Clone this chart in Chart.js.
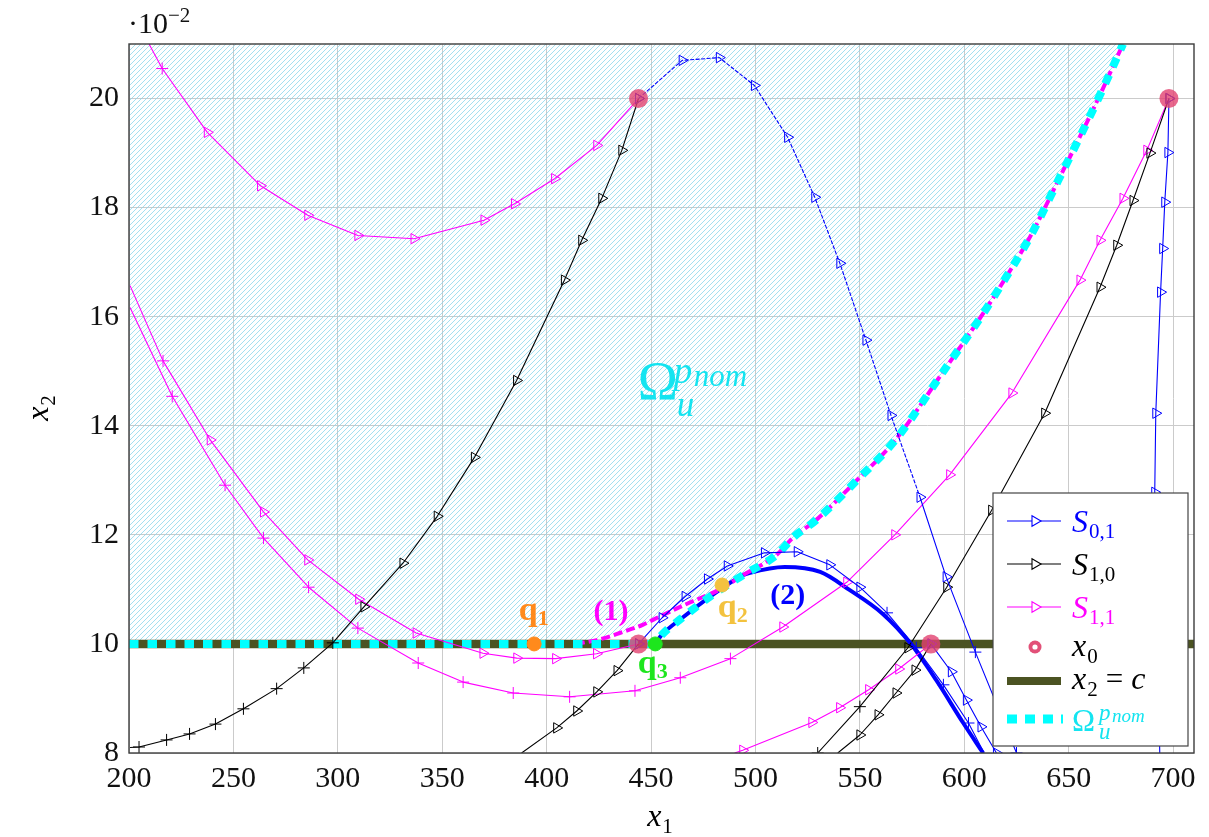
<!DOCTYPE html>
<html>
<head>
<meta charset="utf-8">
<script src="https://cdn.jsdelivr.net/npm/chart.js@4.4.1/dist/chart.umd.min.js"></script>
<style>
  html, body { margin: 0; padding: 0; background: #fff; }
  #c { display: block; }
</style>
</head>
<body>
<canvas id="c" width="1209" height="837"></canvas>
<script>
// ---- axis ticks ----
const xTicks = [200, 250, 300, 350, 400, 450, 500, 550, 600, 650, 700];
const yTicks = [8, 10, 12, 14, 16, 18, 20];

// ---- Omega_u^{p_nom} boundary (values in 1e-2) ----
const omega_x = [452, 455, 465, 478, 494, 510, 518, 529, 548, 567, 590, 608, 617, 632, 645, 656, 666, 676];
const omega_y = [10, 10.16, 10.48, 10.86, 11.26, 11.63, 11.95, 12.27, 12.98, 13.74, 15.0, 16.0, 16.54, 17.5, 18.5, 19.35, 20.15, 21];

// curve (1), magenta dashed, before it joins the boundary
const curve1_x = [414, 425, 435, 446, 454, 468, 483, 494];
const curve1_y = [10, 10.08, 10.2, 10.35, 10.5, 10.75, 11.0, 11.26];

// curve (2), thick blue, after leaving the boundary
const curve2_x = [497, 514, 531, 545, 561, 574, 586.5, 599.5, 609];
const curve2_y = [11.3, 11.41, 11.32, 10.99, 10.55, 10.02, 9.34, 8.55, 8.0];

// x2 = c
const c_x = [200, 710];
const c_y = [10, 10];

// ---- S_{0,1} (blue) ----
const s01a_x = [444, 464.9, 482.7, 499.5, 515.4, 528.4, 540.4, 552.9, 564.9, 578.8, 591.3, 605.3, 625];
const s01a_y = [20, 20.7, 20.75, 20.24, 19.29, 18.19, 16.98, 15.57, 14.19, 12.69, 11.23, 9.85, 8.0];
const s01b_x = [444, 455.3, 466.3, 477, 486.5, 504.3, 520, 535.6, 550, 563, 577, 590, 602, 609.5];
const s01b_y = [10, 10.48, 10.87, 11.19, 11.43, 11.67, 11.69, 11.45, 11.04, 10.57, 9.93, 9.25, 8.55, 8.0];
const s01c_x = [584, 593.8, 601, 608, 615.4];
const s01c_y = [10, 9.49, 8.97, 8.48, 8.0];
const s01d_x = [698, 697.5, 696, 695, 694, 691.7, 691.2, 692.5, 693.6];
const s01d_y = [20, 19.01, 18.1, 17.25, 16.45, 14.23, 12.78, 10.5, 8.0];

// ---- S_{1,0} (black) ----
const s10a_x = [200.5, 204.8, 218, 229, 241.4, 254.8, 270.7, 283.7, 297.6, 312.5, 331.2, 347.6, 365.4, 385.6, 408.5, 416.8, 426.4, 436, 444];
const s10a_y = [8.1, 8.11, 8.24, 8.35, 8.53, 8.81, 9.18, 9.56, 10.02, 10.68, 11.48, 12.34, 13.42, 14.83, 16.67, 17.4, 18.17, 19.05, 20];
const s10b_x = [388, 404.8, 414.4, 424, 433.7, 444];
const s10b_y = [8, 8.46, 8.77, 9.12, 9.51, 10];
const s10c_x = [529.8, 550, 573, 591.6, 613.1, 638.5, 665, 673, 680.8, 688.9, 698];
const s10c_y = [8, 8.85, 9.93, 11.04, 12.45, 14.23, 16.54, 17.31, 18.13, 19.0, 20];
const s10d_x = [539.4, 550, 558.7, 567.3, 576.4, 584];
const s10d_y = [8, 8.33, 8.7, 9.1, 9.52, 10];

// ---- S_{1,1} (magenta) ----
const s11a_x = [209.6, 215.9, 237.5, 263, 285.6, 309.6, 336.5, 370, 384.6, 403.8, 424, 444];
const s11a_y = [21.0, 20.55, 19.38, 18.4, 17.86, 17.49, 17.43, 17.77, 18.07, 18.53, 19.14, 20];
const s11b_x = [200.5, 216.3, 238.9, 264.4, 285.6, 310, 337.5, 369.5, 385.7, 404.3, 423.9, 444];
const s11b_y = [16.57, 15.19, 13.74, 12.42, 11.54, 10.82, 10.2, 9.83, 9.74, 9.73, 9.82, 10];
const s11c_x = [200.5, 220.7, 246, 264.4, 286, 309.6, 338.5, 360, 384, 411, 442.3, 464, 488, 513.1, 543.7, 566.7, 593, 622.8, 655.4, 665, 676, 687.4, 698];
const s11c_y = [16.17, 14.54, 12.91, 11.94, 11.04, 10.29, 9.65, 9.3, 9.1, 9.03, 9.14, 9.38, 9.73, 10.31, 11.13, 12.0, 13.1, 14.6, 16.67, 17.4, 18.17, 19.05, 20];
const s11d_x = [490, 493.9, 527, 540.3, 554.2, 568.6, 584];
const s11d_y = [8, 8.05, 8.56, 8.83, 9.16, 9.54, 10];

// ---- initial points x0 and the points q1, q2, q3 ----
const x0_x = [444, 698, 444, 584];
const x0_y = [20, 20, 10, 10];
const q_names = ['q1', 'q2', 'q3'];
const q_x = [394, 484, 452];
const q_y = [10, 11.08, 10];

// ---------------------------------------------------------------
const SERIF = '"Liberation Serif", "DejaVu Serif", serif';
const BLUE = '#0000ff', MAG = '#ff00ff', BLACK = '#000000';
const OLIVE = '#4b5322', CYAN = '#00ffff';
const X0COL = 'rgba(226,66,112,0.8)';
const QCOL = ['#ff8a1c', '#f3c23e', '#1de61d'];

function pts(xs, ys) { return xs.map((x, i) => ({ x: x, y: ys[i] })); }

// marker code per point: t = triangle, + = plus, - = none
function traj(color, xs, ys, code, extra) {
  const c = code.split('');
  return Object.assign({
    data: pts(xs, ys),
    borderColor: color,
    borderWidth: 1.1,
    tension: 0,
    fill: false,
    pointStyle: c.map(k => k === '+' ? 'cross' : 'triangle'),
    pointRotation: c.map(k => k === '+' ? 0 : 90),
    pointRadius: c.map(k => k === '-' ? 0 : 6),
    pointBorderColor: color,
    pointBackgroundColor: 'rgba(255,255,255,0)',
    pointBorderWidth: 1,
    order: 2
  }, extra || {});
}

function hatchPattern() {
  const t = document.createElement('canvas');
  t.width = 5; t.height = 5;
  const g = t.getContext('2d');
  g.strokeStyle = 'rgba(128,212,234,0.72)';
  g.lineWidth = 1;
  g.beginPath();
  g.moveTo(-1, 6); g.lineTo(6, -1);
  g.moveTo(-1, 1); g.lineTo(1, -1);
  g.moveTo(4, 6); g.lineTo(6, 4);
  g.stroke();
  return document.getElementById('c').getContext('2d').createPattern(t, 'repeat');
}

// boundary pieces built from the arrays
const omegaPts = pts(omega_x, omega_y);
const curve1Pts = pts(curve1_x, curve1_y);
const hatchEdge = [{ x: 200, y: 10 }].concat(curve1Pts, omegaPts.filter(p => p.x > 494));
const cyanPts = [{ x: 200, y: 10 }].concat(omegaPts);
const magPts = curve1Pts.concat(omegaPts.filter(p => p.x > 494));
const bluePts = omegaPts.filter(p => p.x <= 494).concat(pts(curve2_x, curve2_y));

const datasets = [
  // q markers on top
  {
    data: pts(q_x, q_y), showLine: false, pointStyle: 'circle', pointRadius: 7,
    pointBackgroundColor: QCOL, pointBorderColor: QCOL, pointBorderWidth: 1, order: 0
  },
  {
    data: pts(x0_x, x0_y), showLine: false, pointStyle: 'circle', pointRadius: 9.5,
    pointBackgroundColor: X0COL, pointBorderWidth: 0, order: 1
  },
  traj(BLUE, s01a_x, s01a_y, 'ttttttttttt++-', {
    segment: { borderDash: ctx => ctx.p0.parsed.y > 13 ? [4, 1.5] : undefined }
  }),
  traj(BLUE, s01b_x, s01b_y, 'ttttttttt++++-'),
  traj(BLUE, s01c_x, s01c_y, 'ttttt'),
  traj(BLUE, s01d_x, s01d_y, 'ttttttt--'),
  traj(BLACK, s10a_x, s10a_y, '-++++++++tttttttttt'),
  traj(BLACK, s10b_x, s10b_y, '-ttttt'),
  traj(BLACK, s10c_x, s10c_y, '++ttttttttt'),
  traj(BLACK, s10d_x, s10d_y, '-tttt-'),
  traj(MAG, s11a_x, s11a_y, '-+tttttttttt'),
  traj(MAG, s11b_x, s11b_y, '-+tttttttttt'),
  traj(MAG, s11c_x, s11c_y, '-++++++++++++tttttttttt'),
  traj(MAG, s11d_x, s11d_y, '-tttttt'),
  // Omega boundary, cyan dotted
  {
    data: cyanPts, borderColor: CYAN, borderWidth: 8, borderDash: [9.5, 9], borderCapStyle: 'butt',
    pointRadius: 0, cubicInterpolationMode: 'monotone', fill: false, order: 3, clip: 0
  },
  // curve (1)
  {
    data: magPts, borderColor: MAG, borderWidth: 4, borderDash: [9, 4],
    pointRadius: 0, cubicInterpolationMode: 'monotone', fill: false, order: 4, clip: 0
  },
  // curve (2)
  {
    data: bluePts, borderColor: BLUE, borderWidth: 4,
    pointRadius: 0, cubicInterpolationMode: 'monotone', fill: false, order: 5, clip: 0
  },
  // x2 = c
  {
    data: pts(c_x, c_y), borderColor: OLIVE, borderWidth: 8.5, borderCapStyle: 'butt',
    pointRadius: 0, fill: false, order: 6, clip: 0
  },
  // hatched region
  {
    data: hatchEdge, borderWidth: 0, borderColor: 'rgba(0,0,0,0)', backgroundColor: hatchPattern(),
    pointRadius: 0, cubicInterpolationMode: 'monotone', fill: 'end', order: 10
  }
];

function mathText(ctx, runs, x, y, align) {
  let w = 0;
  runs.forEach(r => { ctx.font = r[1]; r.w = ctx.measureText(r[0]).width; w += r.w + (r[4] || 0); });
  let cx = align === 'center' ? x - w / 2 : (align === 'right' ? x - w : x);
  ctx.textAlign = 'left';
  ctx.textBaseline = 'alphabetic';
  runs.forEach(r => {
    ctx.font = r[1];
    ctx.fillStyle = r[2];
    ctx.fillText(r[0], cx, y + (r[3] || 0));
    cx += r.w + (r[4] || 0);
  });
}

const decor = {
  id: 'decor',
  afterDatasetsDraw(chart) {
    const ctx = chart.ctx, a = chart.chartArea;
    const sx = chart.scales.x, sy = chart.scales.y;
    const px = v => sx.getPixelForValue(v), py = v => sy.getPixelForValue(v);
    ctx.save();

    // plot box
    ctx.strokeStyle = '#3c3c3c';
    ctx.lineWidth = 1.4;
    ctx.strokeRect(a.left, a.top, a.right - a.left, a.bottom - a.top);

    // annotations
    const B = 'bold 34px ' + SERIF, Bs = 'bold 22px ' + SERIF;
    mathText(ctx, [['q', B, QCOL[0]], ['1', Bs, QCOL[0], 5]], px(393.8), py(10.43), 'center');
    mathText(ctx, [['(1)', 'bold 30px ' + SERIF, MAG]], px(430.8), py(10.43), 'center');
    mathText(ctx, [['q', B, QCOL[1]], ['2', Bs, QCOL[1], 5]], px(489.1), py(10.49), 'center');
    mathText(ctx, [['(2)', 'bold 30px ' + SERIF, BLUE]], px(515.5), py(10.74), 'center');
    mathText(ctx, [['q', B, QCOL[2]], ['3', Bs, QCOL[2], 5]], px(450.8), py(9.46), 'center');

    // Omega label in the region
    const OC = '#14e4f0';
    const ox = px(443.6), oy = py(14.5);
    ctx.fillStyle = OC;
    ctx.font = '54px ' + SERIF; ctx.textAlign = 'left'; ctx.textBaseline = 'alphabetic';
    ctx.fillText('\u03A9', ox, oy);
    ctx.font = 'italic 37px ' + SERIF; ctx.fillText('p', ox + 36, oy - 16);
    ctx.font = 'italic 31px ' + SERIF; ctx.fillText('nom', ox + 56, oy - 13);
    ctx.font = 'italic 35px ' + SERIF; ctx.fillText('u', ox + 39, oy + 17);

    // legend
    const L = 993, T = 493, R = 1188, Bt = 746;
    ctx.fillStyle = '#ffffff';
    ctx.fillRect(L, T, R - L, Bt - T);
    ctx.strokeStyle = '#444';
    ctx.lineWidth = 1.2;
    ctx.strokeRect(L, T, R - L, Bt - T);
    const lx0 = 1007, lx1 = 1061, mx = 1035, tx = 1072;
    const rows = [[BLUE, '0,1', 521, 532], [BLACK, '1,0', 564, 575], [MAG, '1,1', 607, 618]];
    rows.forEach(r => {
      ctx.strokeStyle = r[0]; ctx.lineWidth = 1.1; ctx.setLineDash([]);
      ctx.beginPath(); ctx.moveTo(lx0, r[2]); ctx.lineTo(lx1, r[2]); ctx.stroke();
      ctx.fillStyle = '#fff';
      Chart.helpers.drawPoint(ctx, { pointStyle: 'triangle', rotation: 90, radius: 6, borderWidth: 1 }, mx, r[2]);
      mathText(ctx, [['S', 'italic 32px ' + SERIF, r[0], 0, 1], [r[1], '21px ' + SERIF, r[0], 6]], tx, r[3], 'left');
    });
    // x0 row
    ctx.fillStyle = 'rgb(226,80,120)';
    ctx.beginPath(); ctx.arc(mx, 647, 6.5, 0, Math.PI * 2); ctx.fill();
    ctx.fillStyle = '#fff';
    ctx.beginPath(); ctx.arc(mx, 647, 2.6, 0, Math.PI * 2); ctx.fill();
    mathText(ctx, [['x', 'italic 32px ' + SERIF, BLACK, 0, 1], ['0', '21px ' + SERIF, BLACK, 7]], tx, 656, 'left');
    // x2 = c row
    ctx.strokeStyle = OLIVE; ctx.lineWidth = 8;
    ctx.beginPath(); ctx.moveTo(lx0, 681); ctx.lineTo(lx1, 681); ctx.stroke();
    mathText(ctx, [['x', 'italic 32px ' + SERIF, BLACK, 0, 1], ['2', '21px ' + SERIF, BLACK, 7, 8],
      ['=', '31px ' + SERIF, BLACK, 0, 8], ['c', 'italic 32px ' + SERIF, BLACK]], tx, 689, 'left');
    // Omega row
    ctx.strokeStyle = CYAN; ctx.lineWidth = 9; ctx.setLineDash([10, 8]); ctx.lineCap = 'butt';
    ctx.beginPath(); ctx.moveTo(lx0, 719); ctx.lineTo(lx1 + 2, 719); ctx.stroke();
    ctx.setLineDash([]);
    ctx.fillStyle = OC;
    ctx.font = '31px ' + SERIF; ctx.fillText('\u03A9', tx, 731);
    ctx.font = 'italic 23px ' + SERIF; ctx.fillText('p', tx + 27, 720);
    ctx.font = 'italic 19px ' + SERIF; ctx.fillText('nom', tx + 40, 722);
    ctx.font = 'italic 23px ' + SERIF; ctx.fillText('u', tx + 27, 739);

    // axis titles
    mathText(ctx, [['x', 'italic 32px ' + SERIF, BLACK, 0, 1], ['1', '21px ' + SERIF, BLACK, 7]], 660, 826, 'center');
    ctx.save();
    ctx.translate(48, 408);
    ctx.rotate(-Math.PI / 2);
    mathText(ctx, [['x', 'italic 32px ' + SERIF, BLACK, 0, 1], ['2', '21px ' + SERIF, BLACK, 7]], 0, 0, 'center');
    ctx.restore();

    // scale factor label
    mathText(ctx, [['\u00B710', '30px ' + SERIF, '#111'], ['\u22122', '21px ' + SERIF, '#111', -11, 0]], 128, 33, 'left');

    ctx.restore();
  }
};

new Chart(document.getElementById('c'), {
  type: 'line',
  data: { datasets: datasets },
  options: {
    responsive: false,
    animation: false,
    devicePixelRatio: 1,
    layout: { padding: { left: 0, right: 15, top: 44, bottom: 0 } },
    plugins: { legend: { display: false }, tooltip: { enabled: false } },
    elements: { line: { borderJoinStyle: 'round' } },
    scales: {
      x: {
        type: 'linear', min: 200, max: 710,
        afterBuildTicks: s => { s.ticks = xTicks.map(v => ({ value: v })); },
        afterFit: s => { s.height = 84; },
        grid: { color: '#cbcbcb', lineWidth: 1, drawTicks: false },
        border: { display: false },
        ticks: { padding: 8, color: '#111', maxRotation: 0, autoSkip: false, font: { family: SERIF, size: 30 } }
      },
      y: {
        type: 'linear', min: 8, max: 21,
        afterBuildTicks: s => { s.ticks = yTicks.map(v => ({ value: v })); },
        afterFit: s => { s.width = 129; },
        grid: { color: '#cbcbcb', lineWidth: 1, drawTicks: false },
        border: { display: false },
        ticks: { padding: 10, color: '#111', autoSkip: false, font: { family: SERIF, size: 30 } }
      }
    }
  },
  plugins: [decor]
});
</script>
</body>
</html>
